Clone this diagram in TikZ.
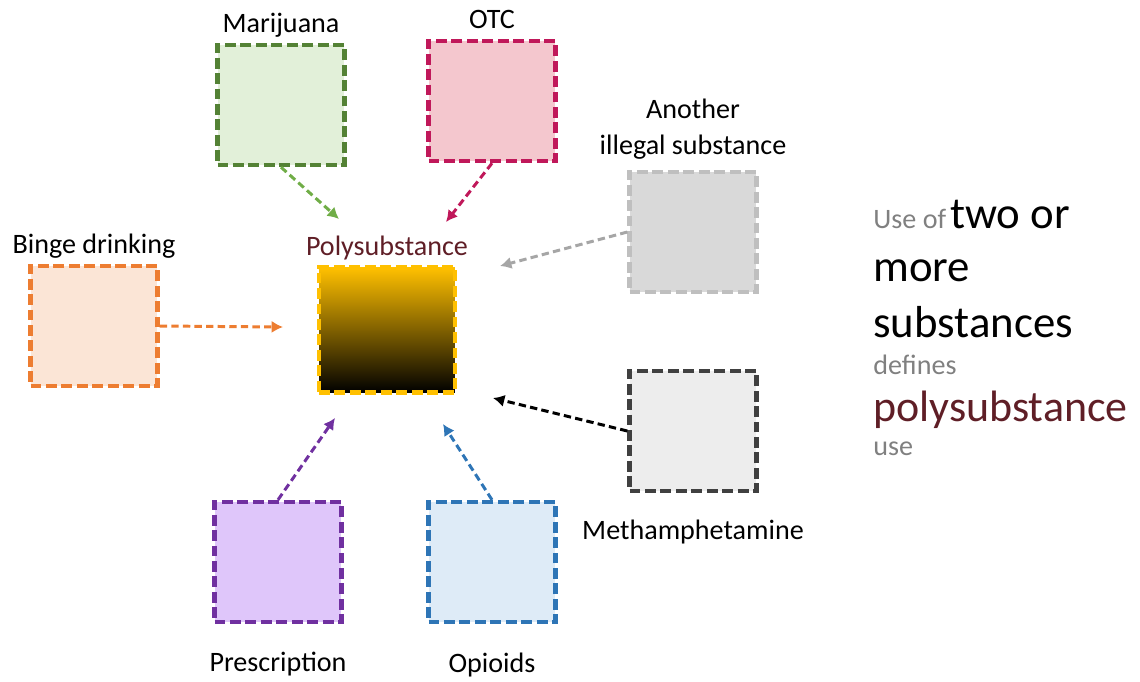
\documentclass[tikz,border=0pt]{standalone}
\usepackage{fontspec}
\setmainfont{Carlito}
\usetikzlibrary{positioning, arrows.meta}
\definecolor{mjline}{HTML}{548235}
\definecolor{mjfill}{HTML}{E2F0D9}
\definecolor{mjarr}{HTML}{70AD47}
\definecolor{otcline}{HTML}{C0185A}
\definecolor{otcfill}{HTML}{F4C7CE}
\definecolor{ailine}{HTML}{BFBFBF}
\definecolor{aifill}{HTML}{D9D9D9}
\definecolor{aiarr}{HTML}{A6A6A6}
\definecolor{bdline}{HTML}{ED7D31}
\definecolor{bdfill}{HTML}{FBE5D6}
\definecolor{polyline}{HTML}{FFC000}
\definecolor{polytext}{HTML}{5F1E26}
\definecolor{methline}{HTML}{404040}
\definecolor{methfill}{HTML}{EDEDED}
\definecolor{prline}{HTML}{7030A0}
\definecolor{prfill}{HTML}{DFC6FA}
\definecolor{opline}{HTML}{2E75B6}
\definecolor{opfill}{HTML}{DEEBF7}
\definecolor{softgray}{HTML}{808080}
\tikzset{sbox/.style={rectangle, draw, line width=2.5pt, dash pattern=on 6.2pt off 2.6pt, minimum width=2.54cm, minimum height=2.4cm, inner sep=0pt}}
\tikzset{lbl/.style={inner sep=0pt, font=\fontsize{16}{20}\selectfont, text depth=0.25em, align=center}}
\tikzset{arr/.style={draw, -{Latex[length=6.5pt,width=7pt]}, line width=1.7pt, dash pattern=on 4.2pt off 2.4pt}}
\tikzset{deftxt/.style={anchor=base west, inner sep=0pt}}
\newcommand{\smalltxt}[1]{{\fontsize{16}{19}\selectfont\color{softgray}#1}}
\newcommand{\bigtxt}[1]{{\fontsize{25.5}{30}\selectfont #1}}

\begin{document}
\begin{tikzpicture}[x=0.02cm, y=-0.02cm]
	\useasboundingbox (0,0) rectangle (1140,681);
	% substance boxes
	\node[sbox, draw=mjline, fill=mjfill] (mj) at (281,105) {};
	\node[sbox, draw=otcline, fill=otcfill] (otc) at (492,101) {};
	\node[sbox, draw=ailine, fill=aifill] (ais) at (693,232) {};
	\node[sbox, draw=bdline, fill=bdfill] (bd) at (94,326) {};
	\node[sbox, draw=polyline, top color=polyline, middle color=polyline!72!black, bottom color=black,
		minimum width=2.72cm, minimum height=2.5cm] (poly) at (387,330) {};
	\node[sbox, draw=methline, fill=methfill] (meth) at (693,431) {};
	\node[sbox, draw=prline, fill=prfill] (pr) at (278,562) {};
	\node[sbox, draw=opline, fill=opfill] (op) at (492,562) {};
	% labels
	\node[lbl, above=0.12cm of mj] (mjlbl) {Marijuana};
	\node[lbl, above=0.12cm of otc] (otclbl) {OTC};
	\node[lbl, above=0.22cm of ais] (aislbl) {Another\\illegal substance};
	\node[lbl, above=0.12cm of bd] (bdlbl) {Binge drinking};
	\node[lbl, above=0.1cm of poly, text=polytext] (polylbl) {Polysubstance};
	\node[lbl, below=0.52cm of meth] (methlbl) {Methamphetamine};
	\node[lbl, below=0.56cm of pr] (prlbl) {Prescription};
	\node[lbl, below=0.56cm of op] (oplbl) {Opioids};
	% arrow ends
	\coordinate (tipmj) at (339,219);
	\coordinate (tipotc) at (446,222);
	\coordinate (tipais) at (500,266);
	\coordinate (tipbd) at (283,327);
	\coordinate (tipmeth) at (493,398);
	\coordinate (tippr) at (335,418);
	\coordinate (tipop) at (443,424);
	\draw[arr, mjarr] (mj.south) -- (tipmj);
	\draw[arr, otcline] (otc.south) -- (tipotc);
	\draw[arr, aiarr] (ais.west) -- (tipais);
	\draw[arr, bdline] (bd.east) -- (tipbd);
	\draw[arr, black] (meth.west) -- (tipmeth);
	\draw[arr, prline] (pr.north) -- (tippr);
	\draw[arr, opline] (op.north) -- (tipop);
	% definition text
	\node[deftxt] (def1) at (873,228) {\smalltxt{Use of} \bigtxt{two or}};
	\node[deftxt] (def2) at (873,281) {\bigtxt{more}};
	\node[deftxt] (def3) at (873,337) {\bigtxt{substances}};
	\node[deftxt] (def4) at (873,374) {\smalltxt{defines}};
	\node[deftxt, text=polytext] (def5) at (873,421) {{\fontsize{25}{30}\selectfont polysubstance}};
	\node[deftxt] (def6) at (873,455) {\smalltxt{use}};
\end{tikzpicture}
\end{document}
